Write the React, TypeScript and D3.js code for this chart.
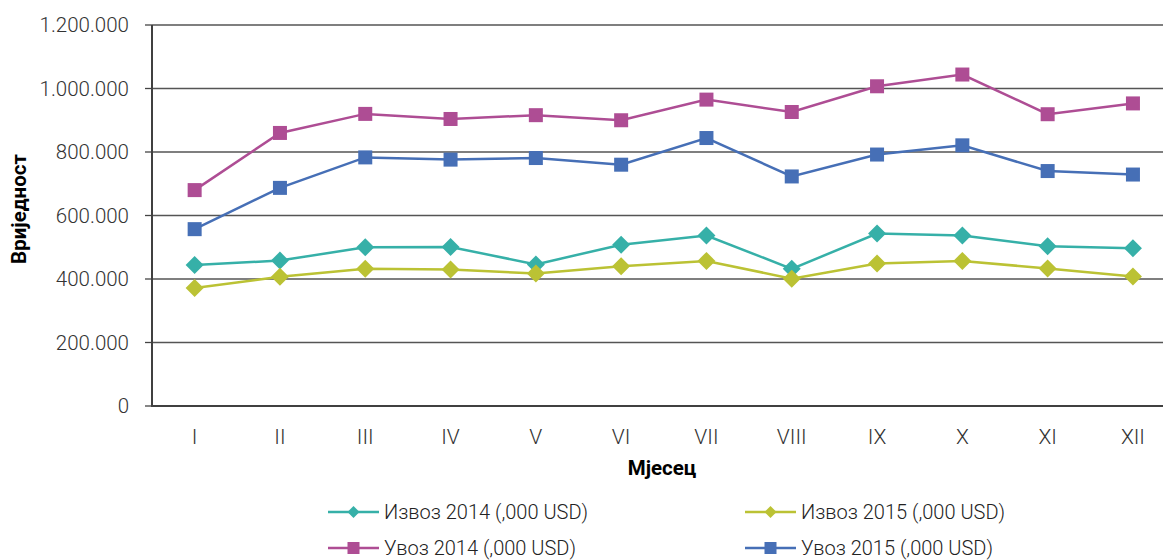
import React from "react";
import * as d3 from "d3";

const months = ["I", "II", "III", "IV", "V", "VI", "VII", "VIII", "IX", "X", "XI", "XII"];
const izvoz2014 = [444000, 458000, 500000, 501000, 446000, 508000, 537000, 432000, 543000, 537000, 503000, 497000];
const izvoz2015 = [372000, 407000, 432000, 430000, 417000, 440000, 457000, 401000, 449000, 457000, 433000, 408000];
const uvoz2014 = [680000, 860000, 920000, 904000, 916000, 900000, 965000, 926000, 1007000, 1044000, 919000, 953000];
const uvoz2015 = [557000, 687000, 783000, 776000, 781000, 760000, 844000, 723000, 792000, 821000, 740000, 729000];
const yTicks = [0, 200000, 400000, 600000, 800000, 1000000, 1200000];

const seriesNames = ["Извоз 2014 (,000 USD)", "Извоз 2015 (,000 USD)", "Увоз 2014 (,000 USD)", "Увоз 2015 (,000 USD)"];
const seriesColors = ["#36b0a8", "#bbc234", "#ae4d94", "#466fb6"];
const seriesShapes = ["diamond", "diamond", "square", "square"];
const seriesData = [izvoz2014, izvoz2015, uvoz2014, uvoz2015];

const W = 1163;
const H = 560;
const left = 152;
const top = 25;
const bottom = 406;
const step = 85.3;

const fmt = (v: number) => d3.format(",")(v).replace(/,/g, ".");

function Marker({ shape, x, y, size, color }: { shape: string; x: number; y: number; size: number; color: string }) {
  if (shape === "square") {
    return <rect x={x - size / 2} y={y - size / 2} width={size} height={size} fill={color} />;
  }
  const r = size / 2;
  return <path d={`M${x},${y - r}L${x + r},${y}L${x},${y + r}L${x - r},${y}Z`} fill={color} />;
}

export default function App() {
  const x = d3.scalePoint<string>().domain(months).range([left, left + step * 12]).padding(0.5);
  const y = d3.scaleLinear().domain([0, 1200000]).range([bottom, top]);
  const line = d3
    .line<number>()
    .x((_, i) => x(months[i]) as number)
    .y((d) => y(d));

  const font = "Roboto, 'Noto Sans', sans-serif";
  const legendPos = [
    { lx: 328, ly: 512 },
    { lx: 745, ly: 512 },
    { lx: 328, ly: 548 },
    { lx: 745, ly: 548 },
  ];

  return (
    <div style={{ position: "absolute", left: 0, top: 0 }}>
      <svg width={W} height={H} style={{ display: "block", background: "#fff" }} fontFamily={font}>
        {yTicks.map((t) => (
          <g key={t}>
            {t > 0 && <line x1={left} x2={W} y1={y(t)} y2={y(t)} stroke="#555" strokeWidth={1.3} />}
            <line x1={left - 7} x2={left} y1={y(t)} y2={y(t)} stroke="#444" strokeWidth={1.3} />
            <text x={129} y={y(t)} dy="0.35em" textAnchor="end" fontSize={20.5} fontWeight={300} fill="#333">
              {fmt(t)}
            </text>
          </g>
        ))}
        <line x1={left} x2={left} y1={top} y2={bottom + 1} stroke="#404040" strokeWidth={2} />
        <line x1={left} x2={W} y1={bottom} y2={bottom} stroke="#404040" strokeWidth={2} />
        {months.map((m) => (
          <text key={m} x={x(m)} y={437} dy="0.35em" textAnchor="middle" fontSize={21} fontWeight={300} fill="#333">
            {m}
          </text>
        ))}
        <text x={662} y={468} dy="0.35em" textAnchor="middle" fontSize={20.5} fontWeight={700} fill="#000">
          Мјесец
        </text>
        <text
          transform={`translate(19,209) rotate(-90)`}
          dy="0.35em"
          textAnchor="middle"
          fontSize={20.5}
          fontWeight={700}
          fill="#000"
        >
          Вриједност
        </text>
        {seriesData.map((data, si) => (
          <g key={si}>
            <path d={line(data) || ""} fill="none" stroke={seriesColors[si]} strokeWidth={2.5} />
            {data.map((v, i) => (
              <Marker
                key={i}
                shape={seriesShapes[si]}
                x={x(months[i]) as number}
                y={y(v)}
                size={seriesShapes[si] === "square" ? 14 : 18}
                color={seriesColors[si]}
              />
            ))}
          </g>
        ))}
        {seriesNames.map((name, si) => {
          const { lx, ly } = legendPos[si];
          return (
            <g key={name}>
              <line x1={lx} x2={lx + 51} y1={ly} y2={ly} stroke={seriesColors[si]} strokeWidth={2.5} />
              <Marker
                shape={seriesShapes[si]}
                x={lx + 25.5}
                y={ly}
                size={12}
                color={seriesColors[si]}
              />
              <text x={lx + 56} y={ly} dy="0.35em" fontSize={20} fontWeight={300} fill="#222">
                {name}
              </text>
            </g>
          );
        })}
      </svg>
    </div>
  );
}
